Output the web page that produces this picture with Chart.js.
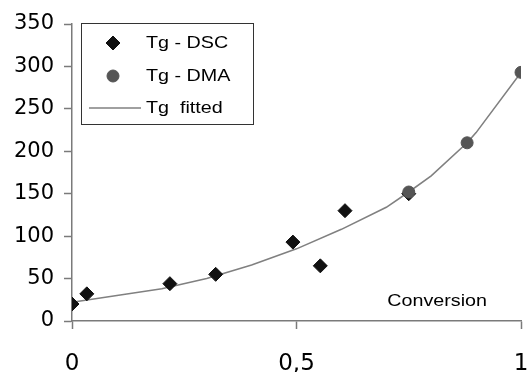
<!DOCTYPE html>
<html>
<head>
<meta charset="utf-8">
<script src="https://cdn.jsdelivr.net/npm/chart.js@4/dist/chart.umd.min.js"></script>
<style>
  html, body { margin: 0; padding: 0; background: #fff; }
  #wrap { width: 529px; height: 372px; }
</style>
</head>
<body>
<div id="wrap"><canvas id="c" width="529" height="372"></canvas></div>
<script>
// Glass transition temperature vs. degree of conversion
const dscConversion = [0, 0.033, 0.218, 0.32, 0.492, 0.553, 0.608, 0.75];
const dscTg         = [20, 32, 44, 55, 93, 65, 130, 150];

const dmaConversion = [0.75, 0.88, 1.0];
const dmaTg         = [152, 210, 293];

const fitConversion = [0, 0.1, 0.2, 0.3, 0.4, 0.5, 0.6, 0.7, 0.75, 0.8, 0.88, 0.9, 1.0];
const fitTg         = [22, 30, 38, 50, 66, 85, 108, 134, 152, 171, 210, 222, 293];

const xTickValues = [0, 0.5, 1];
const xTickLabels = ['0', '0,5', '1'];
const yTicks      = [0, 50, 100, 150, 200, 250, 300, 350];

const seriesNames = ['Tg - DSC', 'Tg - DMA', 'Tg  fitted'];
const axisTitle   = 'Conversion';

const toXY = (xs, ys) => xs.map((x, i) => ({ x: x, y: ys[i] }));

const FONT = '"Liberation Sans", Arial, sans-serif';
const TICK_FONT = '"DejaVu Sans", sans-serif';
const AXIS_GREY = '#7a7a7a';
const TEXT_STRETCH = 1.16;

// wide-set text for the legend and in-plot title
function wideText(ctx, text, x, y, align) {
  ctx.save();
  ctx.translate(x, y);
  ctx.scale(TEXT_STRETCH, 1);
  ctx.textAlign = align || 'left';
  ctx.fillText(text, 0, 0);
  ctx.restore();
}

// Boxed legend inside the plot area plus the in-plot x-axis title
const boxLegend = {
  id: 'boxLegend',
  afterDraw(chart) {
    const ctx = chart.ctx;
    const ds = chart.data.datasets;
    const bx = 81, by = 23, bw = 172, bh = 101;
    const rows = [43, 76, 108];

    ctx.save();
    ctx.fillStyle = '#fff';
    ctx.fillRect(bx, by, bw, bh);
    ctx.strokeStyle = '#333';
    ctx.lineWidth = 1;
    ctx.strokeRect(bx + 0.5, by + 0.5, bw, bh);

    // markers
    ctx.fillStyle = ds[1].pointBackgroundColor;
    ctx.strokeStyle = ds[1].pointBorderColor;
    Chart.helpers.drawPoint(ctx, { pointStyle: 'rectRot', radius: 7, borderWidth: 1 }, 113, rows[0]);
    ctx.fillStyle = ds[0].pointBackgroundColor;
    ctx.strokeStyle = ds[0].pointBorderColor;
    Chart.helpers.drawPoint(ctx, { pointStyle: 'circle', radius: 6, borderWidth: 1 }, 113, rows[1]);
    ctx.strokeStyle = ds[2].borderColor;
    ctx.lineWidth = ds[2].borderWidth;
    ctx.beginPath();
    ctx.moveTo(89, rows[2]);
    ctx.lineTo(141, rows[2]);
    ctx.stroke();

    // labels
    ctx.font = '17px ' + FONT;
    ctx.fillStyle = '#000';
    ctx.textBaseline = 'middle';
    wideText(ctx, ds[1].label, 146, rows[0]);
    wideText(ctx, ds[0].label, 146, rows[1]);
    wideText(ctx, ds[2].label, 146, rows[2]);

    // axis title sitting inside the plot
    const a = chart.chartArea;
    ctx.font = '17px ' + FONT;
    wideText(ctx, axisTitle, a.right - 34, a.bottom - 20, 'right');
    ctx.restore();
  }
};

new Chart(document.getElementById('c'), {
  type: 'scatter',
  data: {
    datasets: [
      {
        label: seriesNames[1],
        data: toXY(dmaConversion, dmaTg),
        pointStyle: 'circle',
        pointRadius: 6,
        pointBackgroundColor: '#555555',
        pointBorderColor: '#555555',
        showLine: false,
        order: 0
      },
      {
        label: seriesNames[0],
        data: toXY(dscConversion, dscTg),
        pointStyle: 'rectRot',
        pointRadius: 7,
        pointBackgroundColor: '#111111',
        pointBorderColor: '#111111',
        showLine: false,
        order: 1
      },
      {
        label: seriesNames[2],
        data: toXY(fitConversion, fitTg),
        showLine: true,
        borderColor: '#808080',
        borderWidth: 1.6,
        pointRadius: 0,
        tension: 0,
        order: 2
      }
    ]
  },
  options: {
    responsive: false,
    animation: false,
    devicePixelRatio: 1,
    layout: { padding: { top: 24, right: 8, left: 0, bottom: 0 } },
    plugins: {
      legend: { display: false },
      tooltip: { enabled: false }
    },
    scales: {
      x: {
        type: 'linear',
        min: 0,
        max: 1,
        afterBuildTicks(scale) {
          scale.ticks = xTickValues.map(v => ({ value: v }));
        },
        afterFit(scale) {
          scale.height = 51;
          scale.paddingLeft = 0;
          scale.paddingRight = 0;
        },
        border: { color: AXIS_GREY, width: 1.5 },
        grid: {
          drawOnChartArea: false,
          drawTicks: true,
          tickLength: 8,
          tickColor: AXIS_GREY,
          tickWidth: 1.5
        },
        ticks: {
          padding: 21,
          color: '#000',
          font: { family: TICK_FONT, size: 23 },
          callback: (v) => {
            const i = xTickValues.indexOf(v);
            return i >= 0 ? xTickLabels[i] : '';
          },
          maxRotation: 0
        }
      },
      y: {
        type: 'linear',
        min: 0,
        max: 350,
        afterBuildTicks(scale) {
          scale.ticks = yTicks.map(v => ({ value: v }));
        },
        afterFit(scale) {
          scale.width = 72;
          scale.paddingTop = 0;
          scale.paddingBottom = 0;
        },
        border: { color: AXIS_GREY, width: 1.5 },
        grid: {
          drawOnChartArea: false,
          drawTicks: true,
          tickLength: 8,
          tickColor: AXIS_GREY,
          tickWidth: 1.5
        },
        ticks: {
          padding: 10,
          color: '#000',
          font: { family: TICK_FONT, size: 21 }
        }
      }
    }
  },
  plugins: [boxLegend]
});
</script>
</body>
</html>
